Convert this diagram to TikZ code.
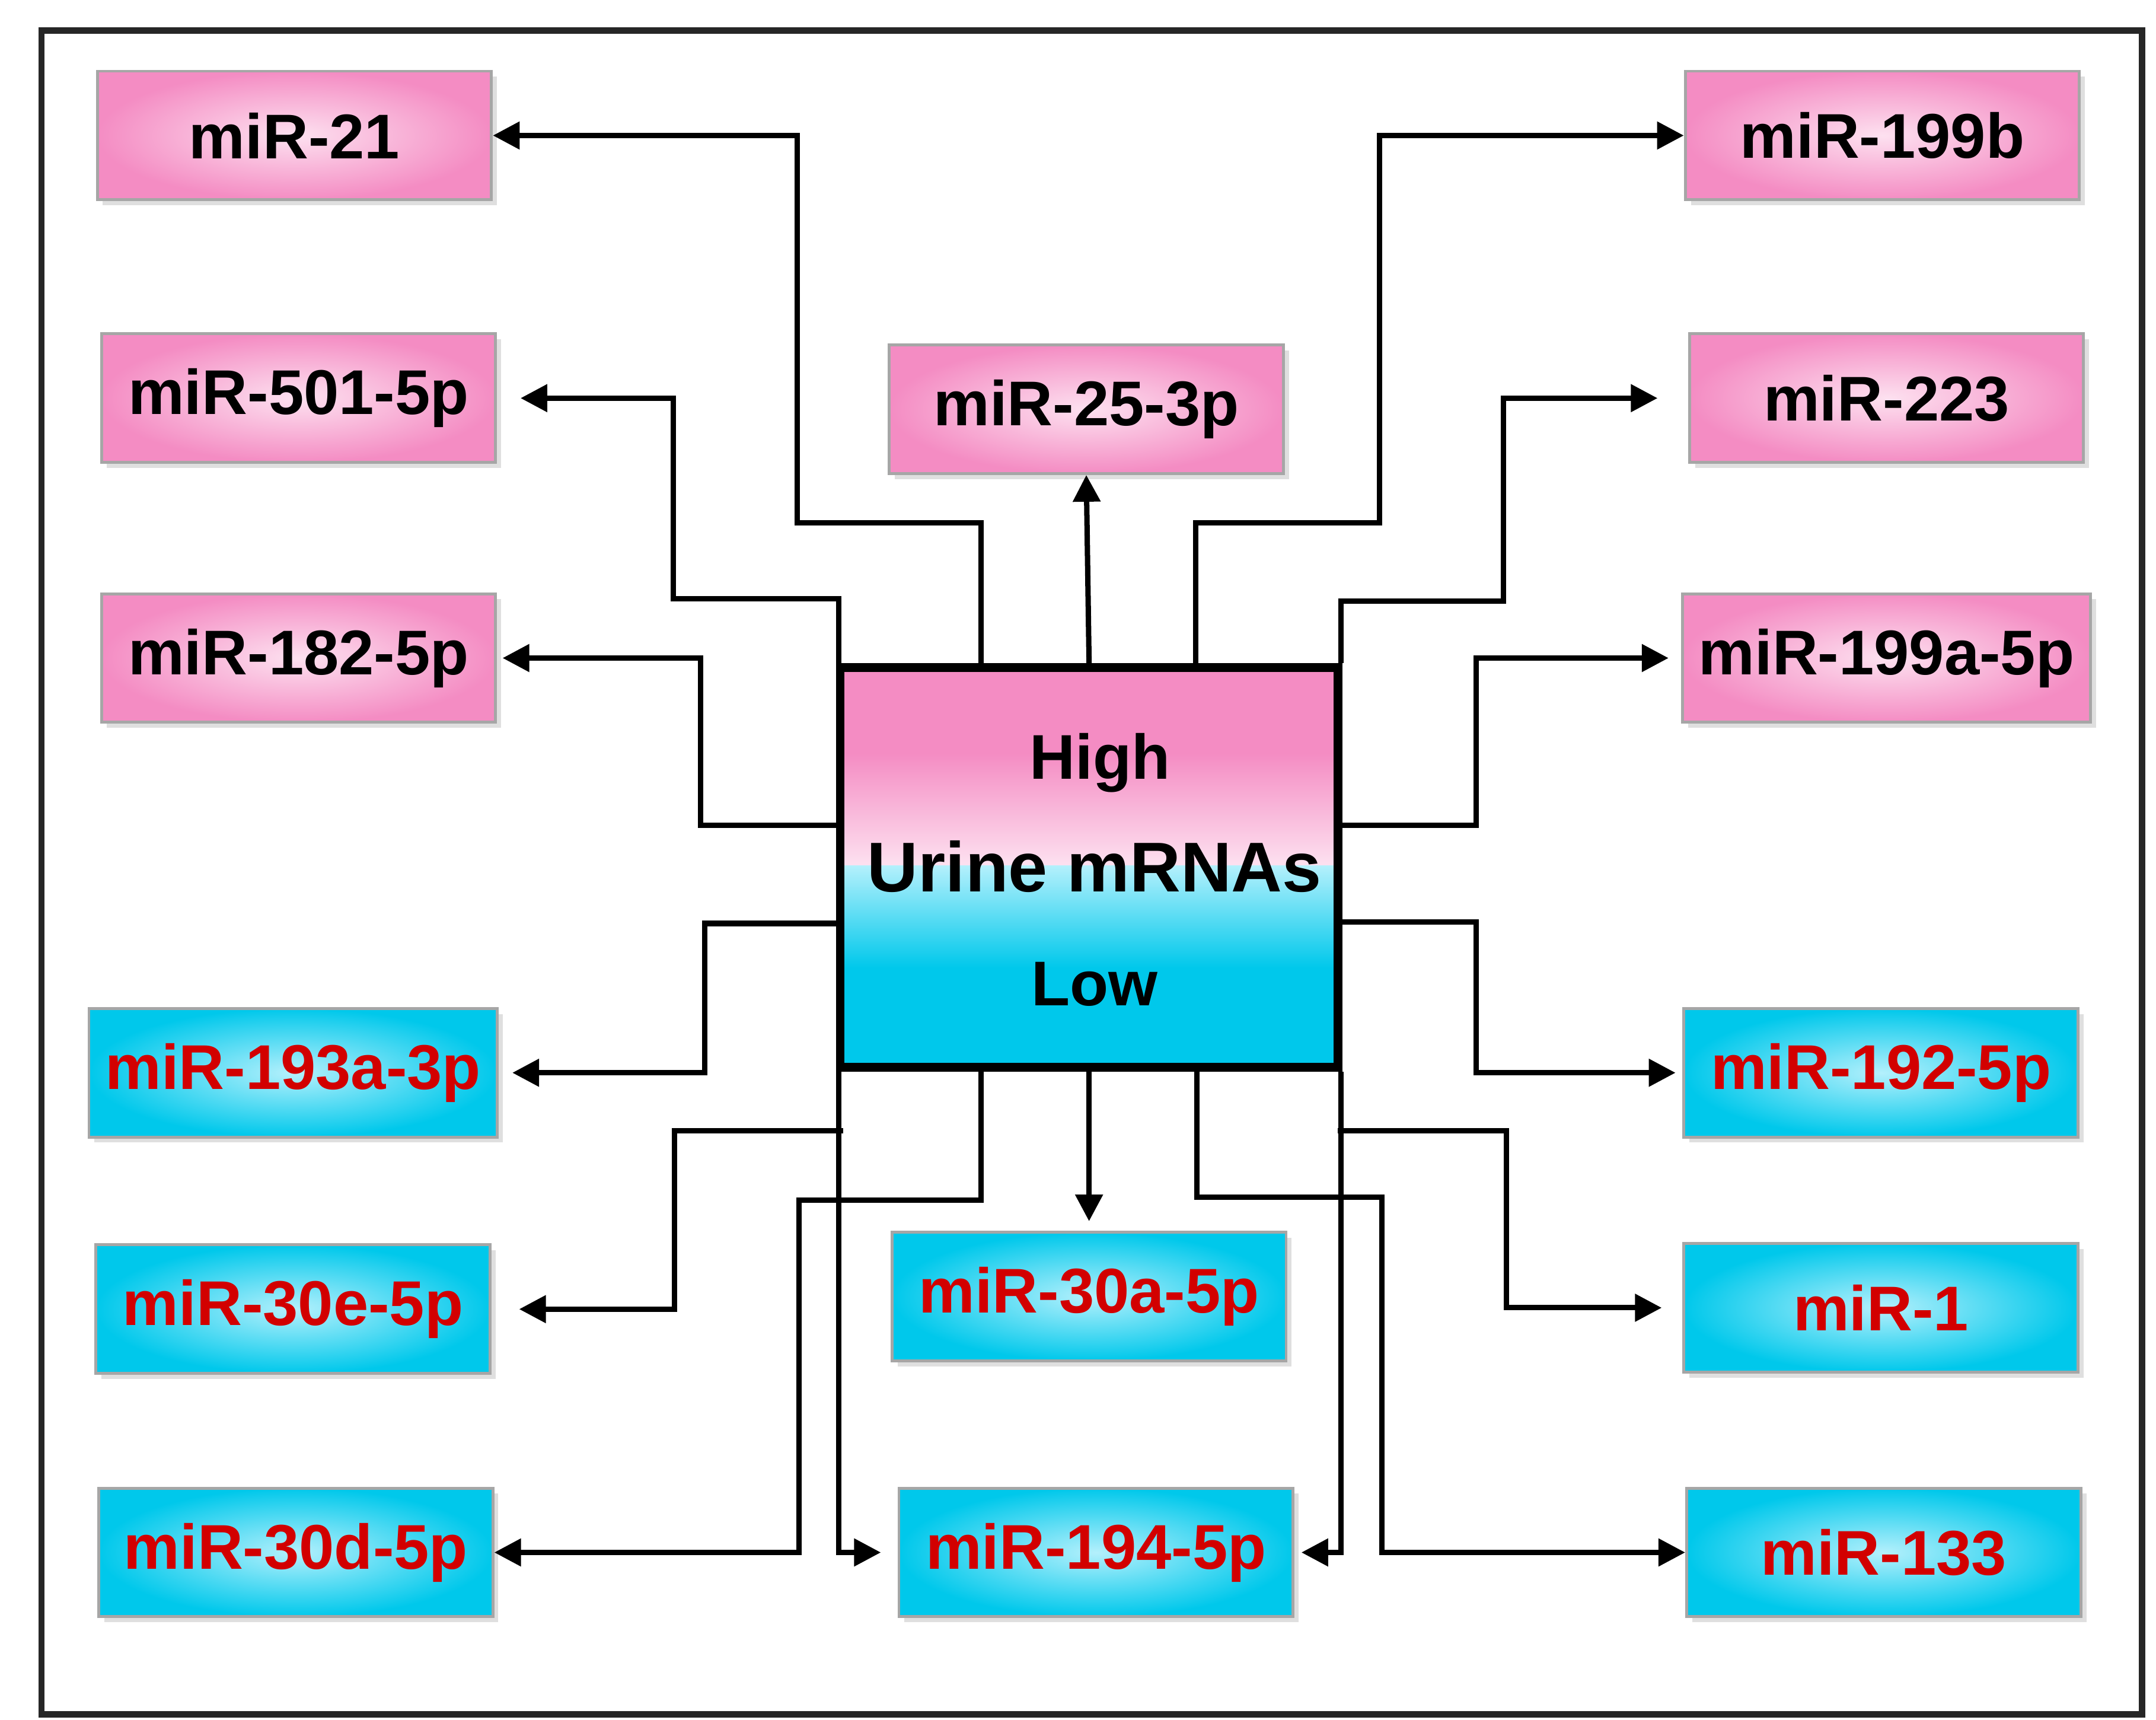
\documentclass[tikz,border=0pt]{standalone}
\usepackage{fontspec}
\setmainfont{Liberation Sans}
\usetikzlibrary{arrows.meta,shadows}
\definecolor{pk}{RGB}{244,140,195}
\definecolor{pkl}{RGB}{253,225,240}
\definecolor{cy}{RGB}{0,200,235}
\definecolor{cyl}{RGB}{180,240,252}
\definecolor{rd}{RGB}{210,0,0}
\begin{document}
\begin{tikzpicture}[x=0.01cm,y=-0.01cm,
  box/.style={rectangle,minimum width=2.85cm,minimum height=0.93cm,draw=gray!70,line width=0.6pt,
    drop shadow={shadow xshift=0.4mm,shadow yshift=-0.4mm,fill=gray!50},font=\bfseries\fontsize{13}{15}\selectfont},
  hi/.style={box,inner color=pkl,outer color=pk,text=black},
  lo/.style={box,inner color=cyl,outer color=cy,text=rd},
  con/.style={line width=1.1pt},
  ar/.style={con,-{Triangle[length=5.5pt,width=5.5pt]}}]
\useasboundingbox (0,0) rectangle (1560,1244);
\draw[line width=1.3pt,draw=black!85] (30,22) rectangle (1550,1240);
% center
\fill[pk] (608,483) rectangle (968,545);
\shade[top color=pk,bottom color=pkl] (608,545) rectangle (968,626);
\shade[top color=cyl,bottom color=cy] (608,626) rectangle (968,700);
\fill[cy] (608,700) rectangle (968,772);
\node[draw,line width=1.8pt,minimum width=3.6cm,minimum height=2.89cm,inner sep=0] (c) at (788,627.5) {};
\node[font=\bfseries\fontsize{13}{15}\selectfont] (th) at (796,552) {High};
\node[font=\bfseries\fontsize{14.5}{17}\selectfont] (tm) at (792,627) {Urine mRNAs};
\node[font=\bfseries\fontsize{13}{15}\selectfont] (tl) at (792,712) {Low};
% boxes
\node[hi] (a1) at (213,98) {miR-21};
\node[hi] (a2) at (216,288) {miR-501-5p};
\node[hi] (a3) at (216,476) {miR-182-5p};
\node[lo] (a4) at (212,776) {miR-193a-3p};
\node[lo] (a5) at (212,947) {miR-30e-5p};
\node[lo] (a6) at (214,1123) {miR-30d-5p};
\node[hi] (b1) at (786,296) {miR-25-3p};
\node[lo] (b2) at (788,938) {miR-30a-5p};
\node[lo] (b3) at (793,1123) {miR-194-5p};
\node[hi] (r1) at (1362,98) {miR-199b};
\node[hi] (r2) at (1365,288) {miR-223};
\node[hi] (r3) at (1365,476) {miR-199a-5p};
\node[lo] (r4) at (1361,776) {miR-192-5p};
\node[lo] (r5) at (1361,946) {miR-1};
\node[lo] (r6) at (1363,1123) {miR-133};
% connectors left
\draw[ar] ([xshift=-0.78cm]c.north) |- (577,378) |- (a1.east);
\draw[ar,shorten >=1.7mm] ([xshift=0.02cm]c.north west) |- (487,433) |- (a2.east);
\draw[ar,shorten >=0.4mm] (c.west |- 0,597) -- (507,597) |- (a3.east);
\draw[ar,shorten >=1mm] (c.west |- 0,668) -- (510,668) |- (a4.east);
\draw[ar,shorten >=2mm] (610,818) -- (488,818) |- (a5.east);
\draw[ar] ([xshift=-0.78cm]c.south) |- (578,868) |- (a6.east);
% center vertical
\draw[ar] (c.north) -- (b1.south);
\draw[ar,shorten >=0.7mm] (c.south) -- (b2.north);
\draw[ar,shorten >=1.2mm] ([xshift=0.02cm]c.south west) |- (b3.west);
\draw[ar,shorten >=0.5mm] ([xshift=-0.01cm]c.south east) |- (b3.east);
% right
\draw[ar] ([xshift=0.77cm]c.north) |- (998,378) |- (r1.west);
\draw[ar,shorten >=2.2mm] ([xshift=-0.01cm]c.north east) |- (1088,435) |- (r2.west);
\draw[ar,shorten >=0.9mm] (c.east |- 0,597) -- (1068,597) |- (r3.west);
\draw[ar,shorten >=0.5mm] (c.east |- 0,667) -- (1068,667) |- (r4.west);
\draw[ar,shorten >=1.5mm] (968,818) -- (1090,818) |- (r5.west);
\draw[ar] ([xshift=0.78cm]c.south) |- (1000,866) |- (r6.west);
\end{tikzpicture}
\end{document}
